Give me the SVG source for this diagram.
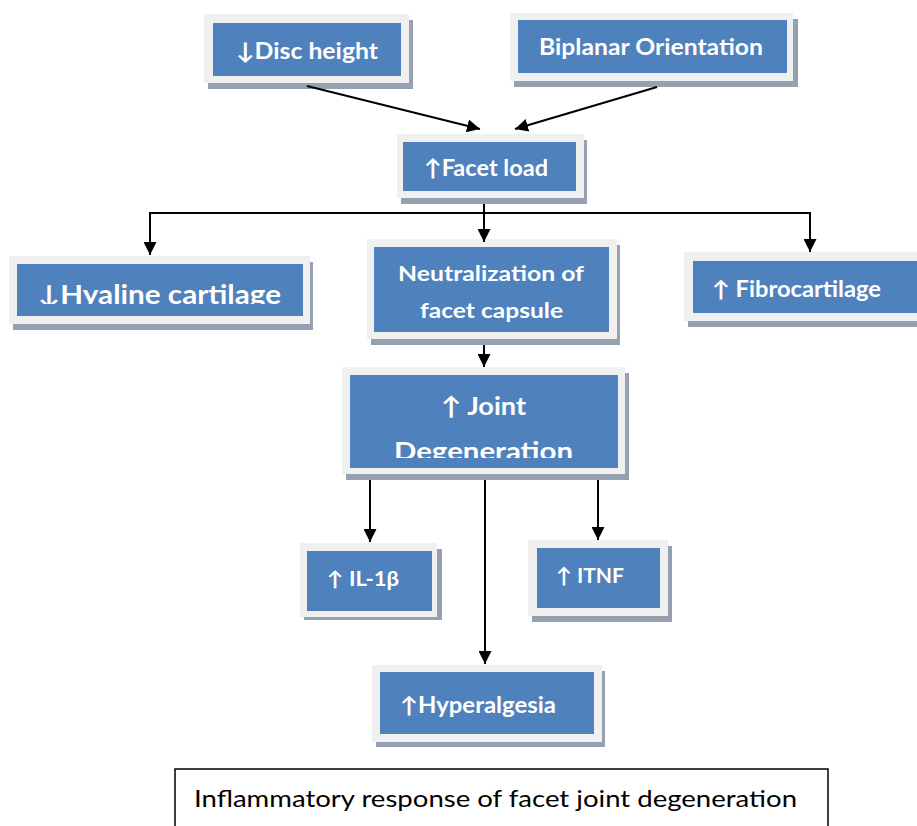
<svg xmlns="http://www.w3.org/2000/svg" width="917" height="826" viewBox="0 0 917 826">
  <style>
    .shadow { fill: #95a1b0; }
    .frame { fill: #f0f0f0; }
    .box { fill: #4f81bd; }
    .lbl { font-family: Lato, "Open Sans", "DejaVu Sans", sans-serif; font-weight: bold; fill: #ffffff; }
    .wire { stroke: #000000; stroke-width: 2; fill: none; }
    .cap { font-family: Lato, "Open Sans", "DejaVu Sans", sans-serif; font-size: 24px; fill: #000000; }
  </style>
  <defs>
    <marker id="tip" viewBox="0 0 10 10" refX="10" refY="5" markerWidth="6.5" markerHeight="6.5" markerUnits="strokeWidth" orient="auto">
      <path d="M0,0 L10,5 L0,10 z" fill="#000000"/>
    </marker>
    <clipPath id="clipHyaline"><rect x="17" y="264" width="286" height="40"/></clipPath>
    <clipPath id="clipJoint"><rect x="350" y="375" width="268" height="83"/></clipPath>
  </defs>

  <rect width="917" height="826" fill="#ffffff"/>

  <!-- Disc height -->
  <g id="disc-height">
    <rect class="shadow" x="208" y="20" width="205" height="69"/>
    <rect class="frame" x="204" y="14" width="205" height="69"/>
    <rect class="box" x="213" y="23" width="188" height="53"/>
    <text class="lbl" x="236" y="59" font-size="23" textLength="142" lengthAdjust="spacingAndGlyphs">↓Disc height</text>
  </g>

  <!-- Biplanar Orientation -->
  <g id="biplanar">
    <rect class="shadow" x="514" y="19" width="284" height="68"/>
    <rect class="frame" x="510" y="13" width="283" height="68"/>
    <rect class="box" x="518" y="20" width="269" height="53"/>
    <text class="lbl" x="539" y="55" font-size="23" textLength="224" lengthAdjust="spacingAndGlyphs">Biplanar Orientation</text>
  </g>

  <!-- Facet load -->
  <g id="facet-load">
    <rect class="shadow" x="401" y="140" width="186" height="64"/>
    <rect class="frame" x="397" y="134" width="187" height="64"/>
    <rect class="box" x="403" y="142" width="173" height="49"/>
    <text class="lbl" x="424" y="176" font-size="23" textLength="124" lengthAdjust="spacingAndGlyphs">↑Facet load</text>
  </g>

  <!-- Hyaline cartilage -->
  <g id="hyaline">
    <rect class="shadow" x="13" y="262" width="300" height="68"/>
    <rect class="frame" x="9" y="256" width="301" height="68"/>
    <rect class="box" x="17" y="264" width="286" height="52"/>
    <text class="lbl" x="38" y="304" font-size="26" textLength="243" lengthAdjust="spacingAndGlyphs" clip-path="url(#clipHyaline)">↓Hyaline cartilage</text>
  </g>

  <!-- Neutralization of facet capsule -->
  <g id="neutralization">
    <rect class="shadow" x="371" y="245" width="249" height="100"/>
    <rect class="frame" x="367" y="239" width="250" height="100"/>
    <rect class="box" x="374" y="247" width="235" height="85"/>
    <text class="lbl" x="398" y="281" font-size="21" textLength="186" lengthAdjust="spacingAndGlyphs">Neutralization of</text>
    <text class="lbl" x="420" y="318" font-size="21" textLength="143" lengthAdjust="spacingAndGlyphs">facet capsule</text>
  </g>

  <!-- Fibrocartilage -->
  <g id="fibrocartilage">
    <rect class="shadow" x="688" y="258" width="240" height="69"/>
    <rect class="frame" x="684" y="252" width="240" height="69"/>
    <rect class="box" x="693" y="261" width="231" height="52"/>
    <text class="lbl" x="712" y="297" font-size="22" textLength="169" lengthAdjust="spacingAndGlyphs">↑ Fibrocartilage</text>
  </g>

  <!-- Joint Degeneration -->
  <g id="joint-degeneration">
    <rect class="shadow" x="346" y="373" width="283" height="107"/>
    <rect class="frame" x="342" y="367" width="283" height="107"/>
    <rect class="box" x="350" y="375" width="268" height="93"/>
    <text class="lbl" x="441" y="415" font-size="25" textLength="85" lengthAdjust="spacingAndGlyphs">↑ Joint</text>
    <text class="lbl" x="394" y="460" font-size="25" textLength="179" lengthAdjust="spacingAndGlyphs" clip-path="url(#clipJoint)">Degeneration</text>
  </g>

  <!-- IL-1β -->
  <g id="il1b">
    <rect class="shadow" x="304" y="549" width="138" height="71"/>
    <rect class="frame" x="300" y="543" width="137" height="74"/>
    <rect class="box" x="307" y="551" width="125" height="60"/>
    <text class="lbl" x="327" y="586" font-size="20" textLength="72" lengthAdjust="spacingAndGlyphs">↑ IL-1β</text>
  </g>

  <!-- ITNF -->
  <g id="itnf">
    <rect class="shadow" x="532" y="546" width="140" height="76"/>
    <rect class="frame" x="528" y="540" width="140" height="76"/>
    <rect class="box" x="537" y="548" width="123" height="60"/>
    <text class="lbl" x="556" y="583" font-size="21" textLength="68" lengthAdjust="spacingAndGlyphs">↑ ITNF</text>
  </g>

  <!-- Hyperalgesia -->
  <g id="hyperalgesia">
    <rect class="shadow" x="376" y="671" width="229" height="76"/>
    <rect class="frame" x="372" y="665" width="230" height="77"/>
    <rect class="box" x="380" y="672" width="214" height="62"/>
    <text class="lbl" x="400" y="713" font-size="22" textLength="156" lengthAdjust="spacingAndGlyphs">↑Hyperalgesia</text>
  </g>

  <!-- connectors, drawn over the node shadows -->
  <g id="connectors">
    <line class="wire" x1="307" y1="86" x2="480" y2="129" marker-end="url(#tip)"/>
    <line class="wire" x1="657" y1="87" x2="515" y2="129" marker-end="url(#tip)"/>
    <line class="wire" x1="484" y1="204" x2="484" y2="242" marker-end="url(#tip)"/>
    <line class="wire" x1="149" y1="213" x2="811" y2="213"/>
    <line class="wire" x1="150" y1="213" x2="150" y2="255" marker-end="url(#tip)"/>
    <line class="wire" x1="810" y1="213" x2="810" y2="252" marker-end="url(#tip)"/>
    <line class="wire" x1="484" y1="345" x2="484" y2="367" marker-end="url(#tip)"/>
    <line class="wire" x1="370" y1="480" x2="370" y2="542" marker-end="url(#tip)"/>
    <line class="wire" x1="485" y1="480" x2="485" y2="664" marker-end="url(#tip)"/>
    <line class="wire" x1="598" y1="480" x2="598" y2="540" marker-end="url(#tip)"/>
  </g>

  <!-- caption -->
  <g id="caption">
    <rect x="175" y="769" width="653" height="70" fill="#ffffff" stroke="#000000" stroke-width="1.5"/>
    <text class="cap" x="194" y="807" textLength="603" lengthAdjust="spacingAndGlyphs">Inflammatory response of facet joint degeneration</text>
  </g>
</svg>
